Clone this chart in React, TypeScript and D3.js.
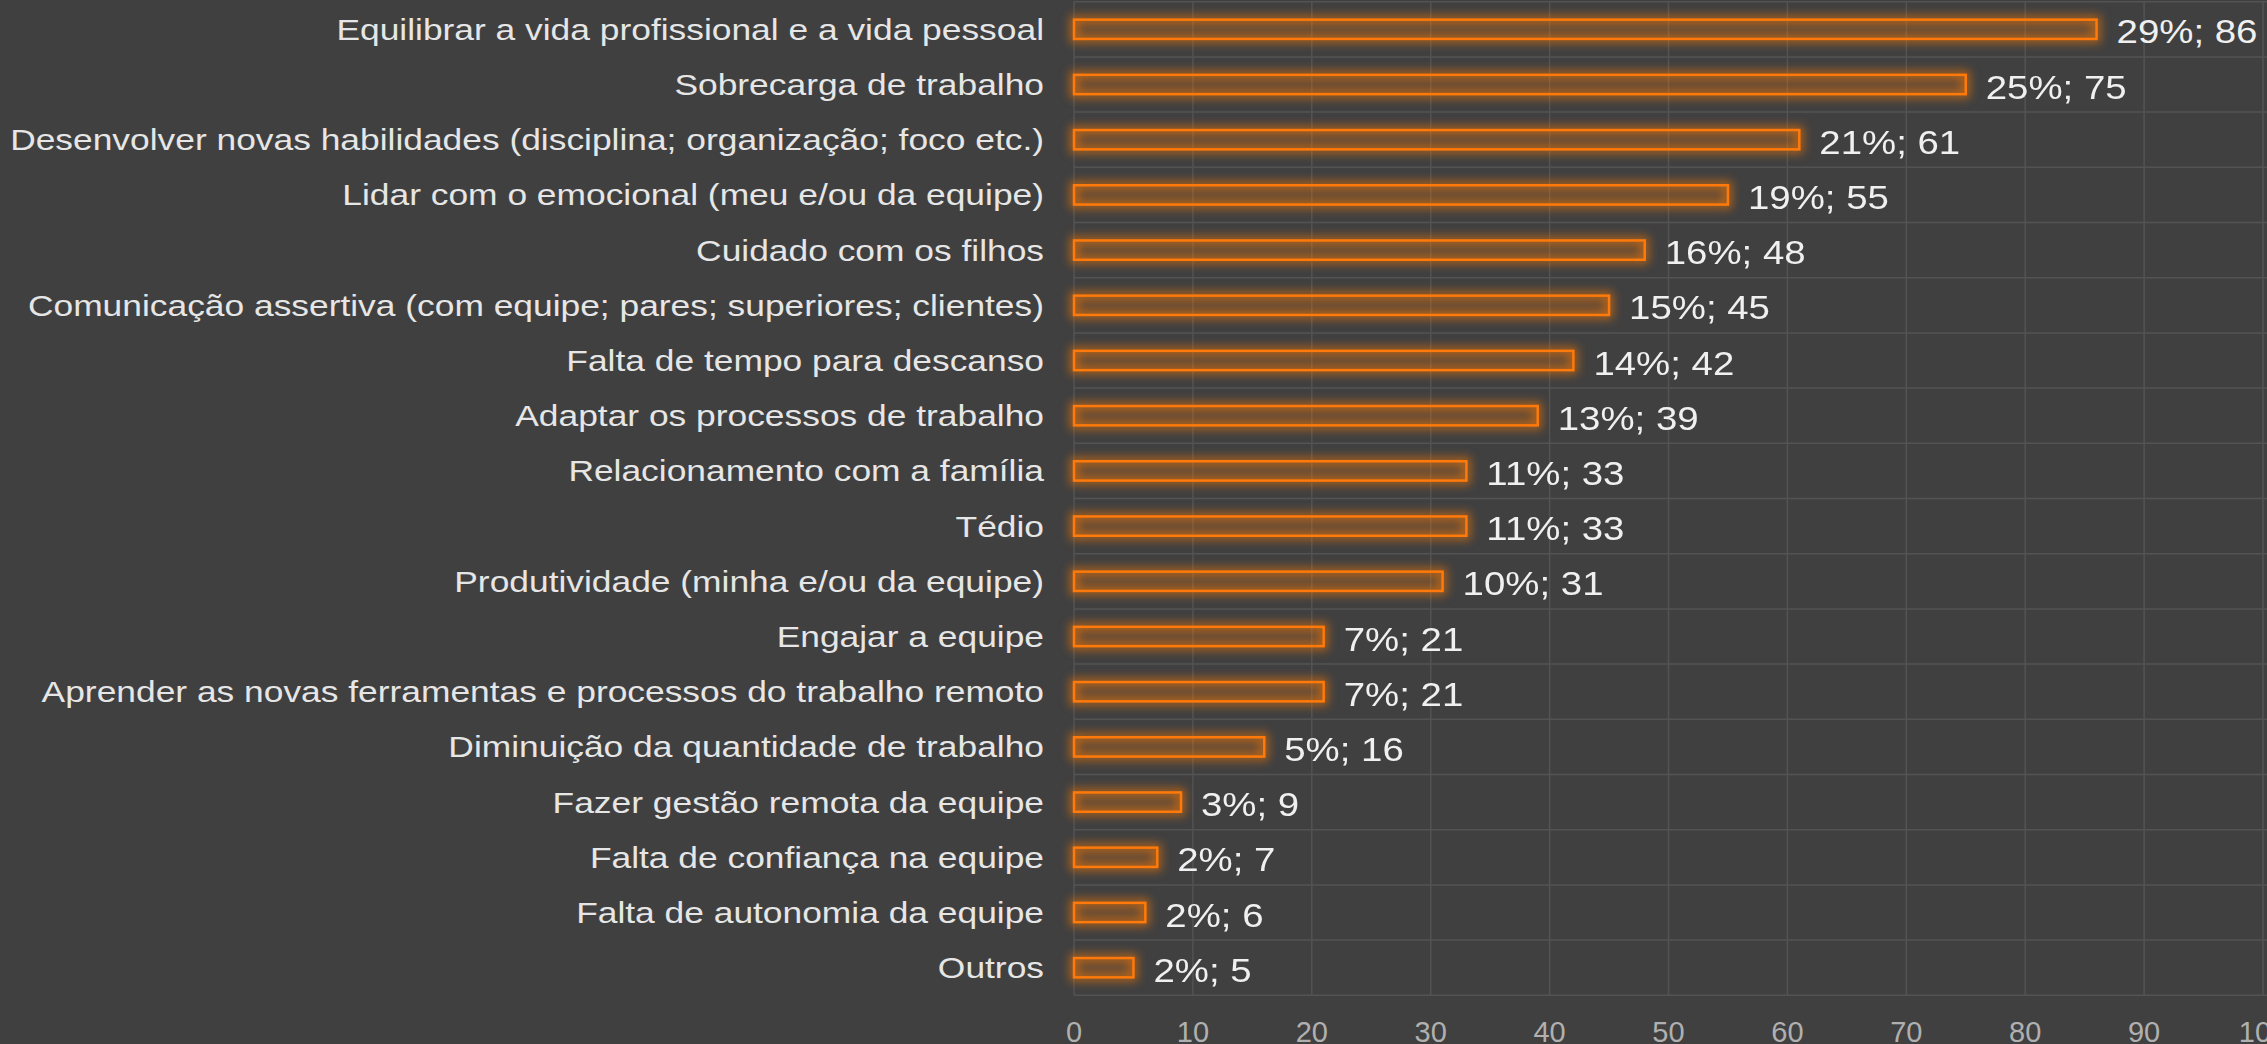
import React from "react";
import * as d3 from "d3";

const categories = [
  "Equilibrar a vida profissional e a vida pessoal",
  "Sobrecarga de trabalho",
  "Desenvolver novas habilidades (disciplina; organização; foco etc.)",
  "Lidar com o emocional (meu e/ou da equipe)",
  "Cuidado com os filhos",
  "Comunicação assertiva (com equipe; pares; superiores; clientes)",
  "Falta de tempo para descanso",
  "Adaptar os processos de trabalho",
  "Relacionamento com a família",
  "Tédio",
  "Produtividade (minha e/ou da equipe)",
  "Engajar a equipe",
  "Aprender as novas ferramentas e processos do trabalho remoto",
  "Diminuição da quantidade de trabalho",
  "Fazer gestão remota da equipe",
  "Falta de confiança na equipe",
  "Falta de autonomia da equipe",
  "Outros",
];
const counts = [86, 75, 61, 55, 48, 45, 42, 39, 33, 33, 31, 21, 21, 16, 9, 7, 6, 5];
const percents = [29, 25, 21, 19, 16, 15, 14, 13, 11, 11, 10, 7, 7, 5, 3, 2, 2, 2];
const xTicks = [0, 10, 20, 30, 40, 50, 60, 70, 80, 90, 100];

const W = 2267;
const H = 1044;
const plot = { left: 1074, right: 2263, top: 1.7, bottom: 995.3 };
const font = "'Liberation Sans', Arial, sans-serif";
const orange = "#ff7a0a";

export default function App() {
  const x = d3.scaleLinear().domain([0, 100]).range([plot.left, plot.right]);
  const y = d3
    .scaleBand<string>()
    .domain(categories)
    .range([plot.top, plot.bottom])
    .paddingInner(0.65)
    .paddingOuter(0.325);
  const step = y.step();
  // band boundaries for the horizontal grid
  const rowLines = d3.range(categories.length + 1).map((i) => plot.top + i * step);

  return (
    <svg
      width={W}
      height={H}
      style={{ position: "fixed", top: 0, left: 0, display: "block" }}
    >
      <defs>
        <filter id="glow" x="-20%" y="-150%" width="140%" height="400%">
          <feGaussianBlur in="SourceGraphic" stdDeviation="5" />
        </filter>
      </defs>
      <rect width={W} height={H} fill="#404040" />

      {/* grid */}
      <g stroke="#535353" strokeWidth={1.5}>
        {rowLines.map((v, i) => (
          <line key={"h" + i} x1={plot.left} x2={W} y1={v} y2={v} />
        ))}
        {xTicks.map((t) => (
          <line key={"v" + t} x1={x(t)} x2={x(t)} y1={plot.top} y2={plot.bottom} />
        ))}
      </g>

      {/* glow under bars */}
      <g filter="url(#glow)">
        {categories.map((c, i) => (
          <rect
            key={c}
            x={x(0)}
            y={y(c)!}
            width={x(counts[i]) - x(0)}
            height={y.bandwidth()}
            fill="none"
            stroke={orange}
            strokeWidth={8}
            opacity={0.6}
          />
        ))}
      </g>

      {/* bars */}
      {categories.map((c, i) => (
        <rect
          key={c}
          x={x(0)}
          y={y(c)!}
          width={x(counts[i]) - x(0)}
          height={y.bandwidth()}
          fill="rgba(255,122,10,0.16)"
          stroke={orange}
          strokeWidth={2.5}
        />
      ))}

      {/* category labels */}
      {categories.map((c) => {
        const cy = y(c)! + y.bandwidth() / 2;
        return (
          <text
            key={c}
            transform={`translate(${plot.left - 30},${cy + 10.5}) scale(1.22,1)`}
            textAnchor="end"
            fontFamily={font}
            fontSize={29}
            fill="#e6e6e6"
          >
            {c}
          </text>
        );
      })}

      {/* value labels */}
      {categories.map((c, i) => {
        const cy = y(c)! + y.bandwidth() / 2;
        return (
          <text
            key={c}
            transform={`translate(${x(counts[i]) + 20},${cy + 14}) scale(1.13,1)`}
            fontFamily={font}
            fontSize={34}
            fill="#f0f0f0"
          >
            {`${percents[i]}%; ${counts[i]}`}
          </text>
        );
      })}

      {/* x axis ticks */}
      {xTicks.map((t) => (
        <text
          key={t}
          x={x(t)}
          y={1042}
          textAnchor="middle"
          fontFamily={font}
          fontSize={29}
          fill="#b0b0b0"
        >
          {t}
        </text>
      ))}
    </svg>
  );
}
